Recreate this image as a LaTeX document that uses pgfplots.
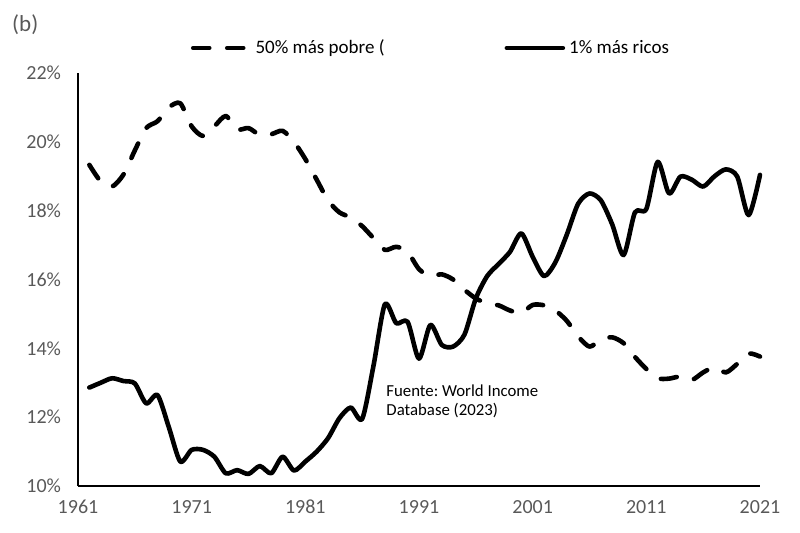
\documentclass[border=0pt]{standalone}
\usepackage{fontspec}
\setmainfont{Carlito}
\usepackage{pgfplots}
\pgfplotsset{compat=1.18}
\definecolor{ticklab}{HTML}{595959}
\frenchspacing
\begin{document}
\begin{tikzpicture}
\begin{axis}[
  at={(0,0)}, anchor=south west,
  scale only axis,
  width=341pt, height=206.5pt,
  xmin=1961, xmax=2021,
  ymin=10, ymax=22,
  axis x line=bottom, axis y line=left,
  axis line style={black, line width=0.6pt, -},
  xtick={1961,1971,1981,1991,2001,2011,2021},
  ytick={10,12,14,16,18,20,22},
  major tick length=0pt,
  typeset ticklabels with strut,
  /pgf/number format/assume math mode=true,
  /pgf/number format/1000 sep={},
  yticklabel={\pgfmathprintnumber{\tick}\%},
  tick label style={font=\fontsize{10}{12}\selectfont, text=ticklab},
  xticklabel style={yshift=-2pt},
  yticklabel style={xshift=-5pt},
  clip=false,
  legend style={draw=none, fill=none, at={(0.519,1.0605)}, anchor=center,
    legend columns=2, font=\fontsize{9.5}{11}\selectfont,
    /tikz/every even column/.append style={column sep=58pt},
    inner sep=0pt, row sep=0pt},
  legend cell align=left,
  legend image code/.code={\draw[#1] (0pt,0pt) -- (28pt,0pt);},
]
\addplot[black, line width=2.3pt, line cap=round, line join=round, dash pattern=on 8pt off 9pt, smooth, tension=0.45] coordinates {
(1962,19.33) (1963,18.85) (1964,18.7) (1965,19.05) (1966,19.75) (1967,20.4)
(1968,20.6) (1969,21.0) (1970,21.12) (1971,20.45) (1972,20.17) (1973,20.45)
(1974,20.75) (1975,20.36) (1976,20.4) (1977,20.2) (1978,20.22) (1979,20.32)
(1980,20.0) (1981,19.5) (1982,18.9) (1983,18.3) (1984,17.95) (1985,17.8)
(1986,17.55) (1987,17.2) (1988,16.86) (1989,16.95) (1990,16.8) (1991,16.3)
(1992,16.1) (1993,16.15) (1994,16.0) (1995,15.7) (1996,15.45) (1997,15.3)
(1998,15.25) (1999,15.1) (2000,15.03) (2001,15.26) (2002,15.25) (2003,15.1)
(2004,14.8) (2005,14.35) (2006,14.05) (2007,14.25) (2008,14.32) (2009,14.15)
(2010,13.75) (2011,13.4) (2012,13.13) (2013,13.12) (2014,13.18) (2015,13.08)
(2016,13.3) (2017,13.45) (2018,13.3) (2019,13.55) (2020,13.85) (2021,13.76)
};
\addlegendentry{50\% más pobre (}
\addplot[black, line width=2.3pt, line cap=round, line join=round, smooth, tension=0.45] coordinates {
(1962,12.86) (1963,13.0) (1964,13.13) (1965,13.05) (1966,12.98) (1967,12.40)
(1968,12.64) (1969,11.7) (1970,10.71) (1971,11.05) (1972,11.05) (1973,10.85)
(1974,10.37) (1975,10.46) (1976,10.35) (1977,10.58) (1978,10.37) (1979,10.85)
(1980,10.45) (1981,10.71) (1982,11.0) (1983,11.39) (1984,11.97) (1985,12.28)
(1986,11.95) (1987,13.5) (1988,15.28) (1989,14.73) (1990,14.77) (1991,13.7)
(1992,14.68) (1993,14.1) (1994,14.05) (1995,14.4) (1996,15.45) (1997,16.1)
(1998,16.45) (1999,16.8) (2000,17.34) (2001,16.66) (2002,16.1) (2003,16.5)
(2004,17.3) (2005,18.2) (2006,18.5) (2007,18.3) (2008,17.6) (2009,16.71)
(2010,17.95) (2011,18.05) (2012,19.42) (2013,18.5) (2014,18.99) (2015,18.9)
(2016,18.7) (2017,19.0) (2018,19.2) (2019,18.99) (2020,17.87) (2021,19.04)
};
\addlegendentry{1\% más ricos}
\node[anchor=north west, align=left, font=\fontsize{8.4}{9.5}\selectfont, inner sep=0pt] at (axis cs:1988.1,12.95) {Fuente: World Income\\Database (2023)};
\node[anchor=west, font=\fontsize{11.5}{13}\selectfont, text=ticklab, inner sep=0pt] at (rel axis cs:-0.097,1.116) {(b)};
\end{axis}
\pgfresetboundingbox
\path (-39pt,-23pt) rectangle (361pt,243pt);
\end{tikzpicture}
\end{document}
